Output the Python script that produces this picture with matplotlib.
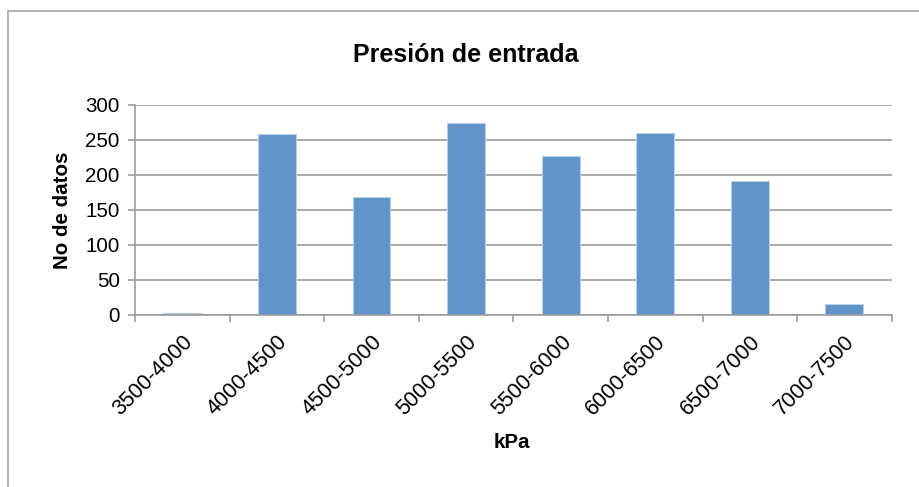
import numpy as np
import matplotlib.pyplot as plt
from matplotlib.lines import Line2D

plt.rcParams['font.family'] = ['Liberation Sans', 'DejaVu Sans']

# datos del histograma
rangos = ['3500-4000', '4000-4500', '4500-5000', '5000-5500',
          '5500-6000', '6000-6500', '6500-7000', '7000-7500']
conteos = [2, 258, 168, 274, 227, 260, 191, 15]
ticks_y = [0, 50, 100, 150, 200, 250, 300]

W, H = 919, 487
fig = plt.figure(figsize=(W / 100, H / 100), dpi=100)
ax = fig.add_axes([135 / W, 1 - 314.7 / H, (891.7 - 135) / W, (314.7 - 105) / H])

x = np.arange(len(rangos))
ax.bar(x, conteos, width=0.4, color='#6195C9', edgecolor='#B8CFE8', linewidth=0.8, zorder=3)

ax.set_xlim(-0.5, len(rangos) - 0.5)
ax.set_ylim(0, 300)
ax.set_yticks(ticks_y)
ax.yaxis.grid(True, color='#9C9C9C', linewidth=1.2, zorder=0)

# marcas del eje x en los limites de cada categoria
ax.set_xticks(x)
ax.set_xticklabels(rangos, rotation=45, ha='right', rotation_mode='anchor')
ax.set_xticks(np.arange(len(rangos) + 1) - 0.5, minor=True)
ax.tick_params(axis='x', which='major', length=0, pad=12, labelsize=15.5)
ax.tick_params(axis='x', which='minor', length=5, width=1.2, color='#9C9C9C', direction='out')
ax.tick_params(axis='y', length=5, width=1.2, color='#9C9C9C', pad=6, labelsize=14.8)

for s in ['top', 'right']:
    ax.spines[s].set_visible(False)
for s in ['left', 'bottom']:
    ax.spines[s].set_color('#9C9C9C')
    ax.spines[s].set_linewidth(1.2)
    ax.spines[s].set_zorder(4)

fig.text(466 / W, 1 - 55 / H, 'Presión de entrada', ha='center', va='center',
         fontsize=18, fontweight='bold')
fig.text(62 / W, 1 - 210 / H, 'No de datos', ha='center', va='center',
         rotation=90, fontsize=14.8, fontweight='bold')
fig.text(512 / W, 1 - 443 / H, 'kPa', ha='center', va='center',
         fontsize=14.8, fontweight='bold')

# borde del area del grafico
fig.add_artist(Line2D([7.5 / W, 7.5 / W, 1.01], [-0.01, 1 - 11 / H, 1 - 11 / H],
                      transform=fig.transFigure, color='#A6A6A6', linewidth=1.2))

fig.savefig('out.png', dpi=100)
